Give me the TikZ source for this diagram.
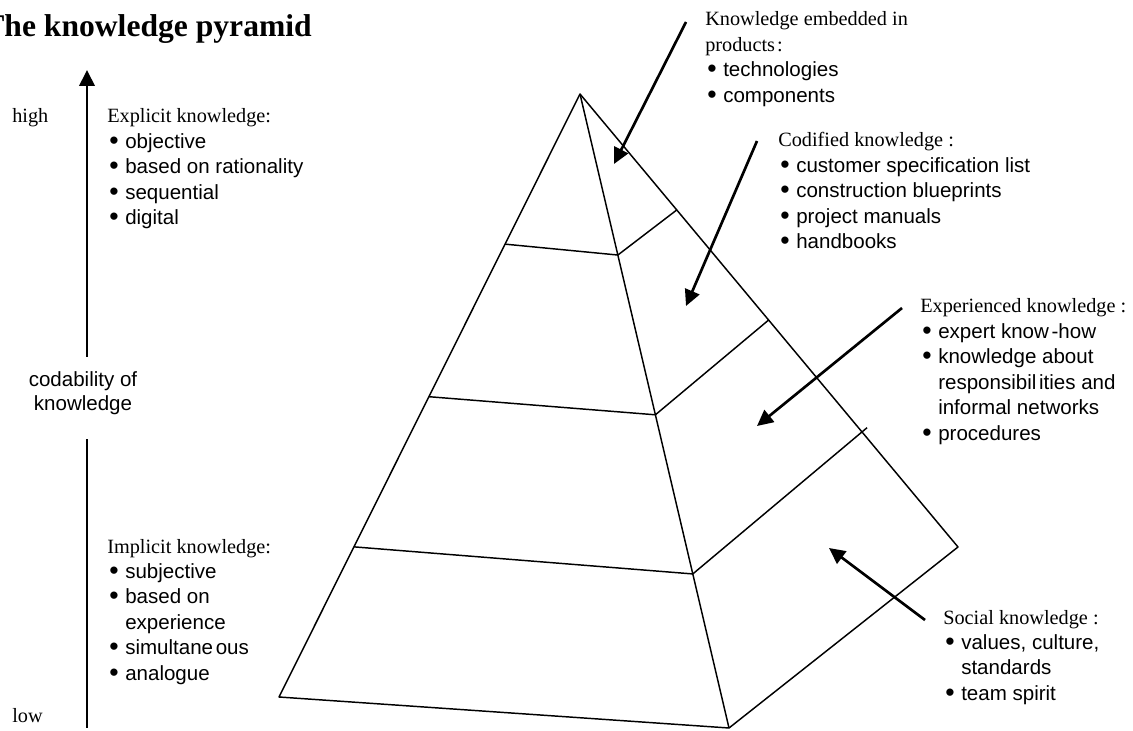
\documentclass[tikz,border=0pt]{standalone}
\usepackage{fontspec}
\setmainfont{Liberation Serif}
\setsansfont{Liberation Sans}
\usetikzlibrary{arrows.meta,calc}

% serif heading inside a list block
\newcommand\hd[1]{{\rmfamily\fontsize{15.2}{19.1}\selectfont #1}}
% bullet and hanging indent
\newcommand\itm{\makebox[13.5pt][l]{\hspace*{1.5pt}\raisebox{-0.7pt}{\scalebox{1.3}{\textbullet}}}}
\newcommand\cnt{\hspace*{13.5pt}}
% a list block whose baseline is its first line
\newcommand\blk[1]{\parbox[t]{7cm}{\raggedright\sffamily\fontsize{15.4}{19.1}\selectfont #1}}

\begin{document}
\begin{tikzpicture}[x=0.75pt,y=-0.75pt,
  facet/.style={line width=1.1pt, line join=round},
  pointer/.style={line width=2pt, -{Triangle[length=12pt,width=11.5pt]}},
  axisline/.style={line width=2pt},
  txt/.style={anchor=base west, inner sep=0pt},
  serif/.style={font=\rmfamily\fontsize{15.2}{19.1}\selectfont}]
\useasboundingbox (0,0) rectangle (1133,731);

% title
\node[anchor=base east, inner sep=0pt, font=\bfseries\fontsize{23.7}{28}\selectfont] (title) at (312,37) {The knowledge pyramid};

% codability axis
\node[serif, txt] (high) at (12,123) {high};
\node[serif, txt] (low) at (12,722) {low};
\node[anchor=base, inner sep=0pt] (cod) at (83,387)
  {\parbox[t]{4cm}{\centering\sffamily\fontsize{15.4}{17.3}\selectfont codability of\\knowledge}};
\coordinate (axtip) at (87,70);
\coordinate (axup) at (87,357);
\coordinate (axdown) at (87,439);
\coordinate (axend) at (87,728);
\draw[pointer] (axup) -- (axtip);
\draw[axisline] (axdown) -- (axend);

% left lists
\node[txt] (explicit) at (107,123) {\blk{\hd{Explicit knowledge:}\\
  \itm objective\\
  \itm based on rationality\\
  \itm sequential\\
  \itm digital}};
\node[txt] (implicit) at (107,553) {\blk{\hd{Implicit knowledge:}\\
  \itm subjective\\
  \itm based on\\
  \cnt experience\\
  \itm simultane\kern2pt ous\\
  \itm analogue}};

% pyramid corners
\coordinate (A) at (580,94);
\coordinate (L) at (279,697);
\coordinate (F) at (729,728);
\coordinate (R) at (958,547);
% tier points on the three edges
\coordinate (l1) at ($(A)!0.249!(L)$);
\coordinate (l2) at ($(A)!0.502!(L)$);
\coordinate (l3) at ($(A)!0.751!(L)$);
\coordinate (f1) at ($(A)!0.254!(F)$);
\coordinate (f2) at ($(A)!0.506!(F)$);
\coordinate (f3) at ($(A)!0.757!(F)$);
\coordinate (r1) at ($(A)!0.256!(R)$);
\coordinate (r2) at ($(A)!0.499!(R)$);
\coordinate (r3) at ($(f3)!1.03!($(A)!0.746!(R)$)$);

\draw[facet] (A) -- (L) -- (F) -- (R) -- cycle;
\draw[facet] (A) -- (F);
\draw[facet] (l1) -- (f1) -- (r1);
\draw[facet] (l2) -- (f2) -- (r2);
\draw[facet] (l3) -- (f3) -- (r3);

% right lists
\node[txt] (embedded) at (705,26) {\blk{\hd{Knowledge embedded in}\\
  \hd{products\kern1.5pt:}\\
  \itm technologies\\
  \itm components}};
\node[txt] (codified) at (778,147) {\blk{\hd{Codified knowledge :}\\
  \itm customer specification list\\
  \itm construction blueprints\\
  \itm project manuals\\
  \itm handbooks}};
\node[txt] (experienced) at (920,313) {\blk{\hd{Experienced knowledge :}\\
  \itm expert know\kern2pt-how\\
  \itm knowledge about\\
  \cnt responsibil\kern2pt ities and\\
  \cnt informal networks\\
  \itm procedures}};
\node[txt] (social) at (943,624) {\blk{\hd{Social knowledge :}\\
  \itm values, culture,\\
  \cnt standards\\
  \itm team spirit}};

% pointers from the lists into the layers
\coordinate (p1s) at (686,22);   \coordinate (p1e) at (614,164);
\coordinate (p2s) at (757,141);  \coordinate (p2e) at (686,306);
\coordinate (p3s) at (902,308);  \coordinate (p3e) at (757,426);
\coordinate (p4s) at (925,620);  \coordinate (p4e) at (829,548);
\draw[pointer] (p1s) -- (p1e);
\draw[pointer] (p2s) -- (p2e);
\draw[pointer] (p3s) -- (p3e);
\draw[pointer] (p4s) -- (p4e);
\end{tikzpicture}
\end{document}
